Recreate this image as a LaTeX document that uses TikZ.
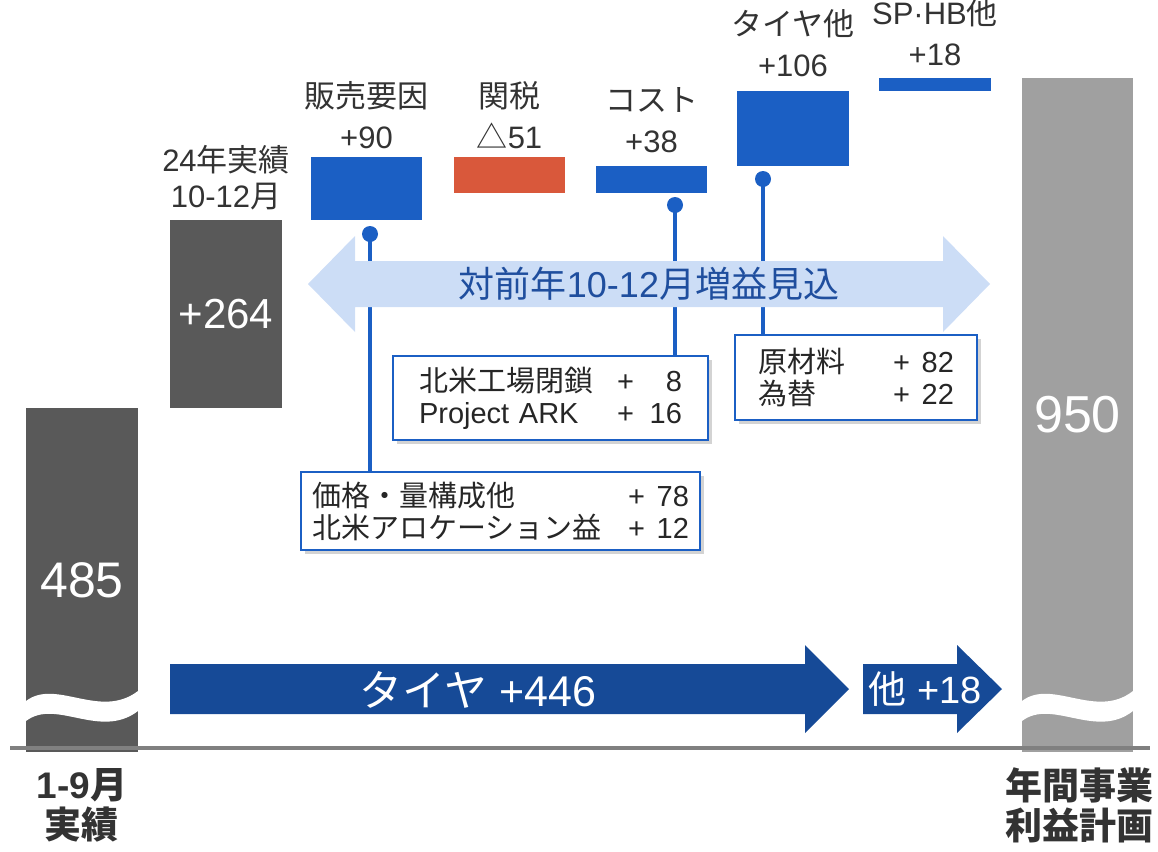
\documentclass[tikz,border=0pt]{standalone}
\usepackage{fontspec}
\setmainfont{Liberation Sans}
\newfontfamily\jp{Noto Sans CJK JP}
\usetikzlibrary{shadows,positioning}
\definecolor{bardark}{HTML}{595959}
\definecolor{barlight}{HTML}{A0A0A0}
\definecolor{incblue}{HTML}{1B5FC4}
\definecolor{decred}{HTML}{D9583B}
\definecolor{paleblue}{HTML}{CCDDF6}
\definecolor{deepblue}{HTML}{164A97}
\definecolor{txtblue}{HTML}{1F4E9E}
\definecolor{txtgray}{HTML}{333333}
\definecolor{txtdark}{HTML}{262626}

\begin{document}
\begin{tikzpicture}[x=0.5pt,y=-0.5pt,
  bar/.style={inner sep=0pt,text=white},
  lbl/.style={align=center,text=txtgray,inner sep=0pt,font=\fontsize{15.5}{20.5}\selectfont},
  link/.style={incblue,line width=1.6pt},
  box/.style={draw=incblue,line width=1.2pt,fill=white,align=left,text=txtdark,
    inner ysep=2pt,font=\fontsize{14.5}{16}\selectfont,
    drop shadow={opacity=0.35,shadow xshift=2pt,shadow yshift=-2pt}},
  foot/.style={align=center,text=txtgray,inner sep=0pt,font=\bfseries\fontsize{18.5}{20}\selectfont}]
  \useasboundingbox (0,0) rectangle (1158,852);

  \node[bar,fill=bardark,minimum width=56pt,minimum height=172pt,font=\fontsize{25}{30}\selectfont] (jan) at (82,580) {485};
  \node[bar,fill=bardark,minimum width=56pt,minimum height=94pt,font=\fontsize{21}{25}\selectfont] (prev) at (226,314) {+264};
  \node[bar,fill=incblue,minimum width=55.5pt,minimum height=31.5pt] (sales) at (366.5,188.5) {};
  \node[bar,fill=decred,minimum width=55.5pt,minimum height=18pt] (tariff) at (509.5,175) {};
  \node[bar,fill=incblue,minimum width=55.5pt,minimum height=13.5pt] (cost) at (651.5,179.5) {};
  \node[bar,fill=incblue,minimum width=56pt,minimum height=37.5pt] (tire) at (793,128.5) {};
  \node[bar,fill=incblue,minimum width=56pt,minimum height=6.5pt] (sphb) at (935,84.5) {};
  \node[bar,fill=barlight,minimum width=55.5pt,minimum height=337pt,font=\fontsize{26}{30}\selectfont] (plan) at (1077.5,415) {950};

  \fill[white] (26,701) .. controls (56,678) and (100,720) .. (138,691) -- (138,711)
    .. controls (100,740) and (56,698) .. (26,721) -- cycle;
  \fill[white] (1022,701) .. controls (1052,678) and (1096,720) .. (1133,691) -- (1133,711)
    .. controls (1096,740) and (1052,698) .. (1022,721) -- cycle;
  \draw[gray,line width=2pt] (10,748) -- (1150,748);

  \node[lbl,above=4.5pt of prev,font=\fontsize{15.5}{18}\selectfont] (prevl) {24{\jp 年実績}\\10-12{\jp 月}};
  \node[lbl,above=3.5pt of sales] (salesl) {{\jp 販売要因}\\+90};
  \node[lbl,above=3.5pt of tariff] (tariffl) {{\jp 関税}\\{\jp △}51};
  \node[lbl,above=6pt of cost] (costl) {{\jp コスト}\\+38};
  \node[lbl,above=6.5pt of tire] (tirel) {{\jp タイヤ他}\\+106};
  \node[lbl,above=5.5pt of sphb] (sphbl) {SP·HB{\jp 他}\\+18};

  \coordinate (p1) at (370,234);
  \coordinate (p2) at (675,205);
  \coordinate (p3) at (763,179);

  \node[box,text width=188.5pt,inner xsep=5.5pt,minimum height=39pt] (mix) at (500.5,511)
    {{\jp 価格・量構成他}\hfill+\makebox[22pt][r]{78}\\{\jp 北米アロケーション益}\hfill+\makebox[22pt][r]{12}};
  \node[box,text width=131.5pt,inner xsep=13pt,minimum height=42pt] (plant) at (550.5,398)
    {{\jp 北米工場閉鎖}\hfill+\makebox[24pt][r]{8}\\Project ARK\hfill+\makebox[24pt][r]{16}};
  \node[box,text width=98pt,inner xsep=11.5pt,minimum height=42.5pt] (mat) at (856,377.5)
    {{\jp 原材料}\hfill+\makebox[22pt][r]{82}\\{\jp 為替}\hfill+\makebox[22pt][r]{22}};

  \draw[link] (p1) -- (p1 |- mix.north);
  \draw[link] (p2) -- (p2 |- plant.north);
  \draw[link] (p3) -- (p3 |- mat.north);
  \fill[incblue] (p1) circle (4pt) (p2) circle (4pt) (p3) circle (4pt);

  \fill[paleblue] (308,284) -- (355,236) -- (355,261) -- (943,261) -- (943,236) -- (990,284)
    -- (943,332) -- (943,307) -- (355,307) -- (355,332) -- cycle;
  \node[text=txtblue,font=\fontsize{18}{20}\selectfont] (outlook) at (649,284) {{\jp 対前年}10-12{\jp 月増益見込}};

  \fill[deepblue] (170,664) -- (805,664) -- (805,645) -- (849,689) -- (805,733) -- (805,714) -- (170,714) -- cycle;
  \fill[deepblue] (863,664) -- (957,664) -- (957,645) -- (1002,689) -- (957,733) -- (957,714) -- (863,714) -- cycle;
  \node[text=white,font=\fontsize{21.5}{24}\selectfont] (tiretxt) at (478,690) {{\jp タイヤ} +446};
  \node[text=white,font=\fontsize{19}{22}\selectfont] (othertxt) at (925,689) {{\jp 他} +18};

  \node[foot] (janl) at (82,805) {1-9{\jp 月}\\{\jp 実績}};
  \node[foot] (planl) at (1079,805) {{\jp 年間事業}\\{\jp 利益計画}};
\end{tikzpicture}
\end{document}
